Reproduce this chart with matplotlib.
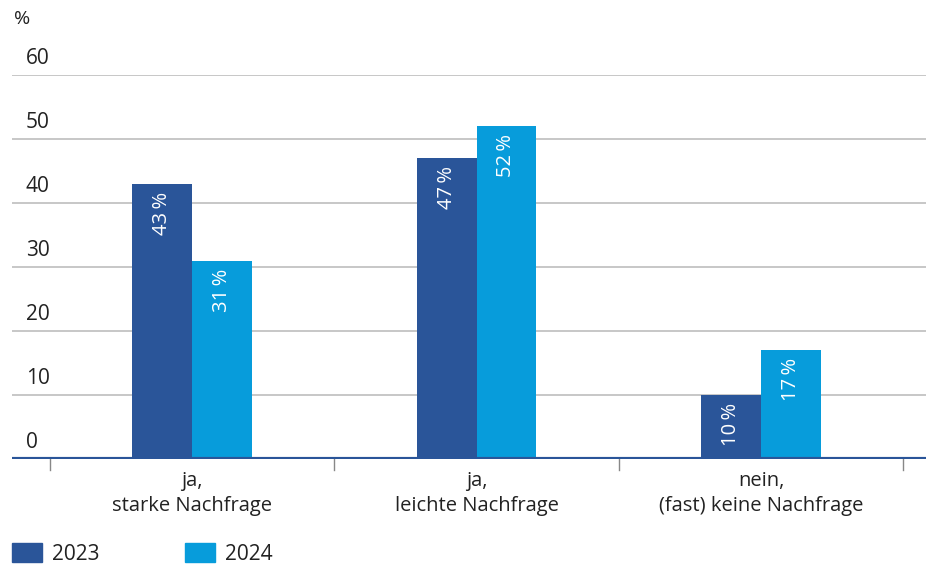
import matplotlib
matplotlib.use("Agg")
import matplotlib.pyplot as plt
import numpy as np
from matplotlib.patches import Rectangle

plt.rcParams['font.family'] = ['Open Sans', 'DejaVu Sans']

categories = ["ja,\nstarke Nachfrage", "ja,\nleichte Nachfrage", "nein,\n(fast) keine Nachfrage"]
series_names = ["2023", "2024"]
values_2023 = [43, 47, 10]
values_2024 = [31, 52, 17]
yticks = [0, 10, 20, 30, 40, 50, 60]

c_dark = "#2A5599"
c_light = "#079CDB"
text_c = "#222222"

W, H = 926, 565
fig = plt.figure(figsize=(W / 100, H / 100), dpi=100)
ax = fig.add_axes([12 / W, 1 - 459 / H, (926 - 12) / W, (459 - 75) / H])

x = np.arange(len(categories))
bw = 0.21
for vals, off, col in [(values_2023, -bw / 2, c_dark), (values_2024, bw / 2, c_light)]:
    bars = ax.bar(x + off, vals, width=bw, color=col, zorder=3)
    for b, v in zip(bars, vals):
        ax.text(b.get_x() + b.get_width() / 2, v - 1.2, f"{v}\u2009%", rotation=90,
                ha="center", va="top", color="white", fontsize=14.5, zorder=4)

ax.set_xlim(-0.633, 2.58)
ax.set_ylim(0, 60)

for t in yticks[1:]:
    ax.axhline(t, color="#BDBDBD", lw=1.2, zorder=1)
for t in yticks:
    ax.text(14 / W, t + 1.0, str(t), transform=ax.get_yaxis_transform(), fontsize=15,
            color=text_c, ha="left", va="bottom")
ax.axhline(0, color=c_dark, lw=3, zorder=5)

for s in ax.spines.values():
    s.set_visible(False)
ax.set_yticks([])
ax.set_xticks([])

# category separators below the baseline
for d in [-0.5, 0.5, 1.5, 2.5]:
    ax.plot([d, d], [0, -1.7], color="#888888", lw=1, clip_on=False, zorder=2)

for xi, lab in zip(x, categories):
    ax.text(xi, -1.9, lab, ha="center", va="top", fontsize=14.5, color=text_c,
            linespacing=1.35)

fig.text(14 / W, 1 - 28 / H, "%", fontsize=14, color=text_c, ha="left", va="bottom")

# legend
for (px, col, name) in [(12, c_dark, series_names[0]), (185, c_light, series_names[1])]:
    fig.patches.append(Rectangle((px / W, 1 - 562 / H), 30 / W, 19 / H,
                                 transform=fig.transFigure, color=col))
    fig.text((px + 40) / W, 1 - 554 / H, name, fontsize=15, color=text_c,
             ha="left", va="center")

fig.savefig("out.png", dpi=100)
